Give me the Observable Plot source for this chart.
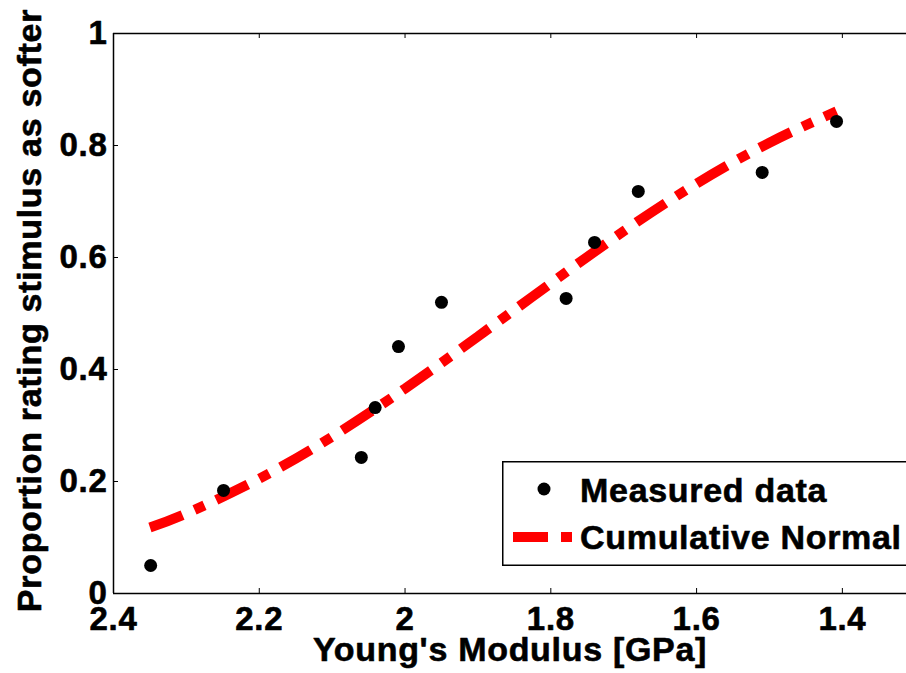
<!DOCTYPE html>
<html><head><meta charset="utf-8">
<script src="https://cdn.jsdelivr.net/npm/d3@7"></script>
<script src="https://cdn.jsdelivr.net/npm/@observablehq/plot@0.6"></script>
<style>
html,body{margin:0;padding:0;background:#fff;overflow:hidden}
#wrap{position:relative;width:906px;height:673px;overflow:hidden}
#legend{position:absolute;left:502px;top:461px}
svg text{letter-spacing:0.7px}
</style></head><body><div id="wrap"></div>
<script>
const modulus = [2.349, 2.249, 2.060, 2.041, 2.009, 1.950, 1.779, 1.740, 1.680, 1.510, 1.408];
const proportion = [0.050, 0.184, 0.243, 0.332, 0.441, 0.520, 0.527, 0.627, 0.718, 0.752, 0.843];
const fitModulus = [2.35, 2.30, 2.20, 2.10, 2.00, 1.90, 1.80, 1.70, 1.60, 1.50, 1.408];
const fitProportion = [0.118, 0.143, 0.205, 0.280, 0.366, 0.459, 0.554, 0.647, 0.732, 0.805, 0.861];
const xTicks = [2.4, 2.2, 2.0, 1.8, 1.6, 1.4];
const yTicks = [0, 0.2, 0.4, 0.6, 0.8, 1];
const xLabel = "Young's Modulus [GPa]";
const yLabel = "Proportion rating stimulus as softer";
const legendLabels = ["Measured data", "Cumulative Normal"];

const points = modulus.map((m, i) => ({m, p: proportion[i]}));
const fit = fitModulus.map((m, i) => ({m, p: fitProportion[i]}));
const font = "'Liberation Sans', Arial, Helvetica, sans-serif";
const dash = "35,13,11,13";
const txt = {fontWeight: "bold", fill: "black", stroke: "black", strokeWidth: 0.6};

const chart = Plot.plot({
  width: 906, height: 673,
  marginLeft: 113, marginRight: 0, marginTop: 33, marginBottom: 80,
  x: {domain: [2.4, 1.312], axis: null},
  y: {domain: [0, 1], axis: null},
  style: {fontFamily: font, background: "white", overflow: "visible"},
  marks: [
    Plot.ruleY([0, 1], {y: d => d, stroke: "black", strokeWidth: 1.5}),
    Plot.ruleX([2.4], {x: d => d, stroke: "black", strokeWidth: 1.5}),
    Plot.tickX(xTicks, {x: d => d, insetTop: 555, stroke: "black", strokeWidth: 1}),
    Plot.tickX(xTicks, {x: d => d, insetBottom: 555, stroke: "black", strokeWidth: 1}),
    Plot.tickY(yTicks, {y: d => d, insetRight: 788, stroke: "black", strokeWidth: 1}),
    Plot.line(fit, {x: "m", y: "p", stroke: "#ff0000", strokeWidth: 10, strokeDasharray: dash, strokeLinecap: "butt", strokeLinejoin: "miter", curve: "natural"}),
    Plot.dot(points, {x: "m", y: "p", r: 6.5, fill: "black", stroke: "none"}),
    Plot.text(xTicks, {x: d => d, frameAnchor: "bottom", dy: 36, text: d => String(d), fontSize: 33, ...txt}),
    Plot.text(yTicks, {y: d => d, frameAnchor: "left", dx: -6, textAnchor: "end", text: d => String(d), fontSize: 33, ...txt}),
    Plot.text([xLabel], {frameAnchor: "bottom", dy: 67, text: d => d, fontSize: 34, ...txt}),
    Plot.text([yLabel], {frameAnchor: "left", dx: -83, dy: -3, rotate: -90, textAnchor: "middle", text: d => d, fontSize: 34, ...txt})
  ]
});
const wrap = document.getElementById("wrap");
wrap.appendChild(chart);

// legend
const ns = "http://www.w3.org/2000/svg";
const lg = document.createElementNS(ns, "svg");
lg.setAttribute("id", "legend");
lg.setAttribute("width", 420);
lg.setAttribute("height", 106);
lg.style.fontFamily = font;
lg.innerHTML = `
  <rect x="0.75" y="0.75" width="500" height="103.5" fill="white" stroke="black" stroke-width="1.5"/>
  <circle cx="42" cy="28" r="6.5" fill="black"/>
  <text x="78" y="41" font-size="34" font-weight="bold" fill="black" stroke="black" stroke-width="0.6">${legendLabels[0]}</text>
  <line x1="11" x2="71" y1="76" y2="76" stroke="#ff0000" stroke-width="10" stroke-dasharray="${dash}"/>
  <text x="78" y="88" font-size="34" font-weight="bold" fill="black" stroke="black" stroke-width="0.6">${legendLabels[1]}</text>`;
wrap.appendChild(lg);
</script></body></html>
